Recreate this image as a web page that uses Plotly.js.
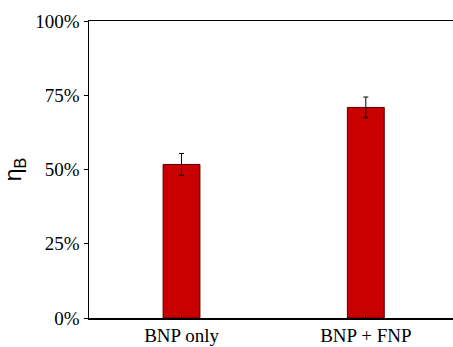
<!DOCTYPE html>
<html>
<head>
<meta charset="utf-8">
<script src="https://cdn.plot.ly/plotly-3.0.1.min.js"></script>
<style>html,body{margin:0;padding:0;background:#fff;overflow:hidden;}</style>
</head>
<body>
<div id="chart" style="width:453px;height:347px;"></div>
<script>
const categories = ["BNP only", "BNP + FNP"];
const values = [0.517, 0.709];
const errors = [0.037, 0.035];
const yTickVals = [0, 0.25, 0.5, 0.75, 1.0];
const yTickText = ["0%", "25%", "50%", "75%", "100%"];

const SERIF = "'Liberation Serif', 'Times New Roman', Times, serif";
const SANS = "'Liberation Sans', Arial, sans-serif";

const trace = {
  type: "bar",
  x: [0, 1],
  y: values,
  width: 0.2,
  marker: {color: "#c80000", line: {color: "#5a0000", width: 1}},
  error_y: {type: "data", array: errors, visible: true, color: "#000", thickness: 1, width: 2.5},
  hoverinfo: "none"
};

const layout = {
  width: 453, height: 347,
  margin: {l: 89, r: 0, t: 21, b: 29},
  paper_bgcolor: "#fff", plot_bgcolor: "#fff",
  showlegend: false,
  font: {family: SERIF, size: 19, color: "#000"},
  xaxis: {
    range: [-0.502, 1.473],
    tickvals: [0, 1], ticktext: categories,
    ticks: "inside", ticklen: 4, tickcolor: "#000", tickwidth: 1,
    showline: true, linecolor: "#000", linewidth: 1.5, mirror: true,
    showgrid: false, zeroline: false,
    tickfont: {family: SERIF, size: 19, color: "#000"}
  },
  yaxis: {
    range: [0, 1],
    tickvals: yTickVals, ticktext: yTickText,
    ticks: "outside", ticklen: 4, tickcolor: "#000", tickwidth: 1,
    showline: true, linecolor: "#000", linewidth: 1.5,
    showgrid: false, zeroline: false,
    tickfont: {family: SERIF, size: 19, color: "#000"},
    title: {text: "η<sub>B</sub>", font: {family: SANS, size: 23, color: "#000"}, standoff: 9}
  }
};

Plotly.newPlot("chart", [trace], layout, {staticPlot: true, displayModeBar: false});
</script>
</body>
</html>
